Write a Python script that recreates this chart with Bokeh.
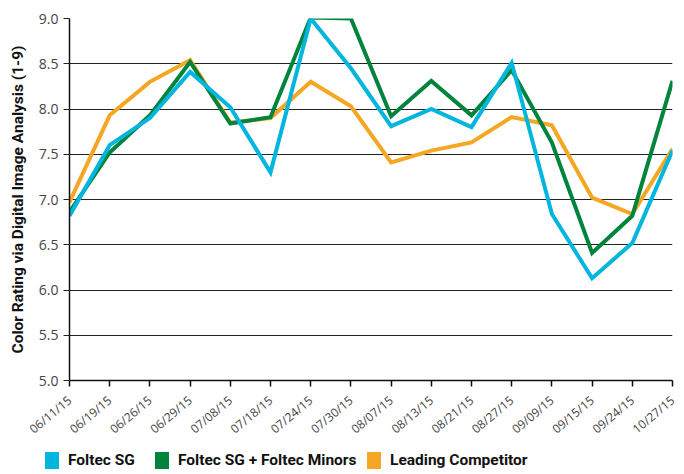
import math
from bokeh.plotting import figure
from bokeh.layouts import column
from bokeh.models import (ColumnDataSource, FixedTicker, NumeralTickFormatter,
                          Range1d, Div)
from bokeh.embed import file_html
from bokeh.resources import INLINE

dates = ["06/11/15", "06/19/15", "06/26/15", "06/29/15", "07/08/15", "07/18/15",
         "07/24/15", "07/30/15", "08/07/15", "08/13/15", "08/21/15", "08/27/15",
         "09/09/15", "09/15/15", "09/24/15", "10/27/15"]
foltec_sg = [6.82, 7.60, 7.90, 8.41, 8.02, 7.30, 9.00, 8.45, 7.81, 8.00, 7.80, 8.51,
             6.84, 6.13, 6.52, 7.54]
foltec_minors = [6.86, 7.52, 7.93, 8.52, 7.84, 7.91, 9.01, 9.00, 7.92, 8.31, 7.93, 8.43,
                 7.63, 6.41, 6.82, 8.31]
competitor = [6.97, 7.93, 8.30, 8.54, 7.85, 7.90, 8.30, 8.03, 7.41, 7.54, 7.63, 7.91,
              7.82, 7.02, 6.84, 7.56]
series_names = ["Foltec SG", "Foltec SG + Foltec Minors", "Leading Competitor"]
colors = ["#00B5DE", "#00843D", "#F5A623"]
y_ticks = [5.0, 5.5, 6.0, 6.5, 7.0, 7.5, 8.0, 8.5, 9.0]

xs = list(range(len(dates)))

p = figure(width=684, height=446, output_backend="svg", toolbar_location=None,
           x_range=Range1d(0, len(dates) - 1), y_range=Range1d(5, 9),
           min_border_left=69, min_border_right=12, min_border_top=18,
           min_border_bottom=66)
p.outline_line_color = None
p.background_fill_color = "white"

src = ColumnDataSource(dict(x=xs, sg=foltec_sg, mn=foltec_minors, cp=competitor))
p.line("x", "cp", source=src, line_color=colors[2], line_width=4, line_join="miter")
p.line("x", "mn", source=src, line_color=colors[1], line_width=4, line_join="miter")
p.line("x", "sg", source=src, line_color=colors[0], line_width=4, line_join="miter")

# x axis
p.xaxis.ticker = FixedTicker(ticks=xs)
p.xaxis.major_label_overrides = {i: d for i, d in enumerate(dates)}
p.xaxis.major_label_orientation = math.radians(40)
p.xaxis.major_label_text_font = "Open Sans"
p.xaxis.major_label_text_font_size = "12px"
p.xaxis.major_label_text_color = "#444444"
p.xaxis.major_label_standoff = 12
p.xaxis.axis_line_color = "#111111"
p.xaxis.axis_line_width = 1.5
p.xaxis.major_tick_line_color = "#111111"
p.xaxis.major_tick_line_width = 1.5
p.xaxis.major_tick_out = 6
p.xaxis.major_tick_in = 0
p.xaxis.minor_tick_line_color = None

# y axis
p.yaxis.ticker = FixedTicker(ticks=y_ticks)
p.yaxis.formatter = NumeralTickFormatter(format="0.0")
p.yaxis.major_label_text_font = "Open Sans"
p.yaxis.major_label_text_font_size = "14px"
p.yaxis.major_label_text_color = "#444444"
p.yaxis.axis_line_color = "#111111"
p.yaxis.axis_line_width = 1.5
p.yaxis.major_tick_line_color = "#222222"
p.yaxis.major_tick_out = 6
p.yaxis.major_tick_in = 0
p.yaxis.minor_tick_line_color = None
p.yaxis.axis_label = "Color Rating via Digital Image Analysis (1-9)"
p.yaxis.axis_label_text_font = "Roboto"
p.yaxis.axis_label_text_font_style = "bold"
p.yaxis.axis_label_text_font_size = "15.5px"
p.yaxis.axis_label_text_color = "#111111"
p.yaxis.axis_label_standoff = 9

p.xgrid.grid_line_color = None
p.ygrid.grid_line_color = "#222222"
p.ygrid.grid_line_width = 1

# legend (HTML, below the chart)
swatch_left = [45, 155, 367]
parts = []
for name, c, left in zip(series_names, colors, swatch_left):
    parts.append(
        f'<div style="position:absolute;left:{left}px;top:6px;width:14px;height:17px;'
        f'background:{c};"></div>'
        f'<div style="position:absolute;left:{left + 23}px;top:4px;white-space:nowrap;'
        f'font-family:Roboto;font-weight:bold;font-size:15.5px;line-height:20px;'
        f'color:#111111;">{name}</div>'
    )
legend_div = Div(text='<div style="position:relative;width:684px;height:28px;'
                      'overflow:hidden;">' + "".join(parts) + '</div>',
                 width=684, height=28, margin=0)

layout = column(p, legend_div, spacing=0)

open("out.html", "w").write(file_html(layout, INLINE))
